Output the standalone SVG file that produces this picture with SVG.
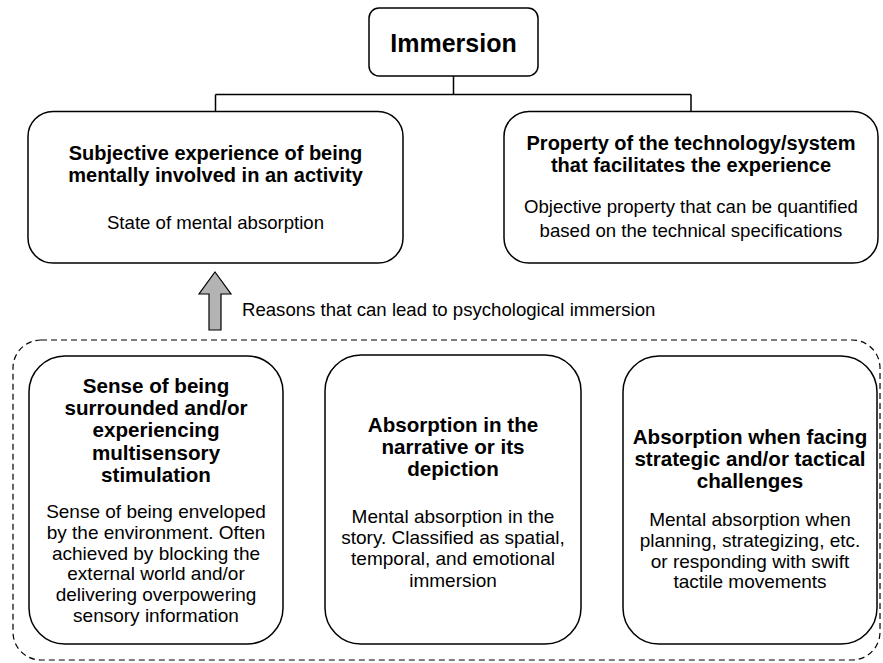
<svg xmlns="http://www.w3.org/2000/svg" width="883" height="663" viewBox="0 0 883 663">
<style>
.box{fill:#fff;stroke:#000;stroke-width:1.5}
.t{font-family:"Liberation Sans",Arial,sans-serif;fill:#000;text-anchor:middle}
.h{font-weight:bold}
.ht{font-size:20px}
.hb{font-size:20.6px}
.bt{font-size:18.6px}
.bb{font-size:19px}
.line{fill:none;stroke:#000;stroke-width:1.5}
</style>
<rect width="883" height="663" fill="#fff"/>
<g id="group-reasons">
<rect x="13" y="340" width="867" height="320" rx="28" ry="28" fill="none" stroke="#000" stroke-width="1.2" stroke-dasharray="6 4"/>
</g>
<g id="connectors">
<path class="line" d="M453.5 76 V94.5 M215.5 94.5 H691 M215.5 94.5 V111.5 M691 94.5 V111.5"/>
<polygon points="215,272 231,294 221,294 221,330 209,330 209,294 199,294" fill="#b3b3b3" stroke="#000" stroke-width="1.2"/>
<text class="t bt" x="242" y="316" style="text-anchor:start">Reasons that can lead to psychological immersion</text>
</g>
<g id="immersion">
<rect class="box" x="369" y="8" width="169" height="68" rx="10"/>
<text class="t h" x="453.5" y="51.5" font-size="25">Immersion</text>
</g>
<g id="subjective">
<rect class="box" x="28" y="111.5" width="375" height="151.5" rx="25"/>
<text class="t h ht" x="215.5" y="160">Subjective experience of being</text>
<text class="t h ht" x="215.5" y="182">mentally involved in an activity</text>
<text class="t bt" x="215.5" y="228.5">State of mental absorption</text>
</g>
<g id="property">
<rect class="box" x="504" y="111.5" width="374" height="151.5" rx="25"/>
<text class="t h ht" x="691" y="150">Property of the technology/system</text>
<text class="t h ht" x="691" y="172">that facilitates the experience</text>
<text class="t bt" x="691" y="213">Objective property that can be quantified</text>
<text class="t bt" x="691" y="237">based on the technical specifications</text>
</g>
<g id="surrounded">
<rect class="box" x="29" y="356" width="254" height="288" rx="36"/>
<text class="t h hb" x="156" y="393">Sense of being</text>
<text class="t h hb" x="156" y="415">surrounded and/or</text>
<text class="t h hb" x="156" y="437">experiencing</text>
<text class="t h hb" x="156" y="460">multisensory</text>
<text class="t h hb" x="156" y="482">stimulation</text>
<text class="t bb" x="156" y="518">Sense of being enveloped</text>
<text class="t bb" x="156" y="539">by the environment. Often</text>
<text class="t bb" x="156" y="560">achieved by blocking the</text>
<text class="t bb" x="156" y="580">external world and/or</text>
<text class="t bb" x="156" y="601">delivering overpowering</text>
<text class="t bb" x="156" y="622">sensory information</text>
</g>
<g id="narrative">
<rect class="box" x="325" y="355" width="256" height="289" rx="36"/>
<text class="t h hb" x="453" y="432">Absorption in the</text>
<text class="t h hb" x="453" y="454">narrative or its</text>
<text class="t h hb" x="453" y="476">depiction</text>
<text class="t bb" x="453" y="523">Mental absorption in the</text>
<text class="t bb" x="453" y="544">story. Classified as spatial,</text>
<text class="t bb" x="453" y="565">temporal, and emotional</text>
<text class="t bb" x="453" y="587">immersion</text>
</g>
<g id="strategic">
<rect class="box" x="623" y="356" width="254" height="288" rx="36"/>
<text class="t h hb" x="750" y="444">Absorption when facing</text>
<text class="t h hb" x="750" y="466">strategic and/or tactical</text>
<text class="t h hb" x="750" y="488">challenges</text>
<text class="t bb" x="750" y="526">Mental absorption when</text>
<text class="t bb" x="750" y="547">planning, strategizing, etc.</text>
<text class="t bb" x="750" y="568">or responding with swift</text>
<text class="t bb" x="750" y="588">tactile movements</text>
</g>
</svg>
